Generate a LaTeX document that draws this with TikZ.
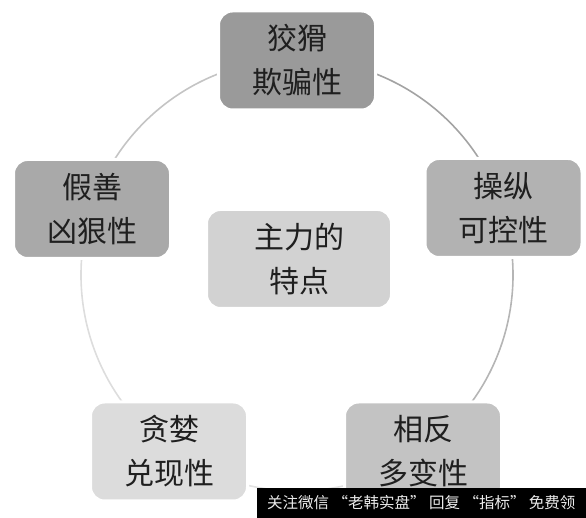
\documentclass[tikz,border=0pt]{standalone}
\usepackage{fontspec}
\newfontfamily\cjk{Noto Sans CJK SC}
\usepackage{tikz}
\usetikzlibrary{positioning}
\definecolor{BoxTop}{HTML}{9A9A9A}
\definecolor{BoxLeft}{HTML}{A9A9A9}
\definecolor{BoxRight}{HTML}{B2B2B2}
\definecolor{BoxMid}{HTML}{D2D2D2}
\definecolor{BoxLow}{HTML}{DCDCDC}
\definecolor{BoxRlow}{HTML}{C3C3C3}
\definecolor{RingA}{HTML}{A3A3A3}
\definecolor{RingB}{HTML}{B5B5B5}
\definecolor{RingC}{HTML}{E2E2E2}
\definecolor{RingD}{HTML}{DDDDDD}
\definecolor{RingE}{HTML}{C4C4C4}

\begin{document}
\begin{tikzpicture}[
  x=1pt, y=1pt,
  featbox/.style={draw=white, line width=3pt, rounded corners=14pt, minimum width=157pt, minimum height=99pt, inner sep=0pt, align=center, text=black!88, font=\cjk\fontsize{30}{44}\selectfont},
  ringarc/.style={line width=1.6pt},
  notebar/.style={fill=black, inner sep=0pt, minimum width=329pt, minimum height=30pt, text=white!92!black, font=\cjk\fontsize{15.5}{17}\selectfont}
]
\useasboundingbox (0,0) rectangle (586,518);
\coordinate (ring) at (297,243);
% ring behind the boxes
\draw[ringarc, RingA] (ring) ++(90:216pt) arc[start angle=90, end angle=18, radius=216pt];
\draw[ringarc, RingB] (ring) ++(18:216pt) arc[start angle=18, end angle=-54, radius=216pt];
\draw[ringarc, RingC] (ring) ++(-54:216pt) arc[start angle=-54, end angle=-126, radius=216pt];
\draw[ringarc, RingD] (ring) ++(-126:216pt) arc[start angle=-126, end angle=-198, radius=216pt];
\draw[ringarc, RingE] (ring) ++(162:216pt) arc[start angle=162, end angle=90, radius=216pt];
\node[featbox, fill=BoxTop] (cunning) at (297,457.5) {狡猾\\欺骗性};
\node[featbox, fill=BoxRight] (control) at (503.5,310) {操纵\\可控性};
\node[featbox, fill=BoxRlow] (change) at (423,66.5) {相反\\多变性};
\node[featbox, fill=BoxLow] (greed) at (169,66.5) {贪婪\\兑现性};
\node[featbox, fill=BoxLeft] (fierce) at (92,309) {假善\\凶狠性};
\node[featbox, fill=BoxMid, minimum width=185pt] (main) at (299,259) {主力的\\特点};
\node[notebar, anchor=south east] (note) at (586,0) {关注微信 “老韩实盘” 回复 “指标” 免费领};
\end{tikzpicture}
\end{document}
